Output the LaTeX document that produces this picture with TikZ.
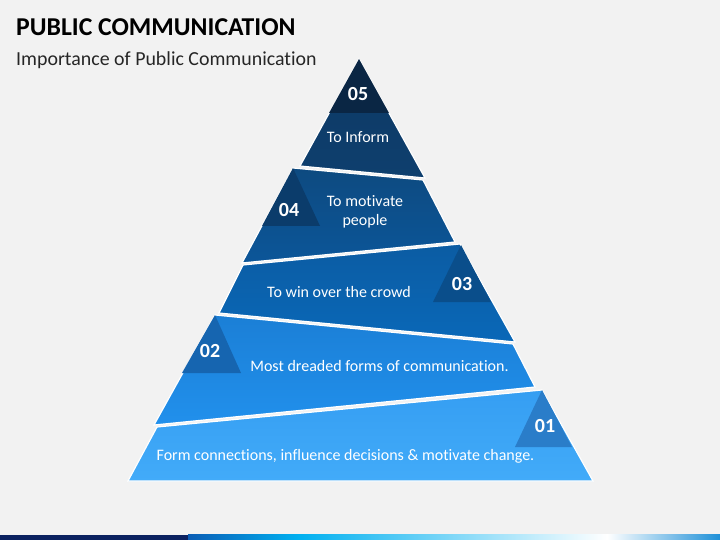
\documentclass[tikz,border=0pt]{standalone}
\usepackage{fontspec}
\setmainfont{Carlito}[Ligatures=NoCommon]
\definecolor{bg}{HTML}{F2F2F2}
\definecolor{sFtop}{HTML}{0A2644}
\definecolor{sF}{HTML}{0D3964}
\definecolor{sFb}{HTML}{0E3F6E}
\definecolor{sDt}{HTML}{0D4A80}
\definecolor{sDb}{HTML}{0C5699}
\definecolor{tD}{HTML}{0B3C6B}
\definecolor{sCt}{HTML}{0B5CA3}
\definecolor{sCb}{HTML}{0A68B8}
\definecolor{tC}{HTML}{0A4E8B}
\definecolor{sBt}{HTML}{1B7FD6}
\definecolor{sBb}{HTML}{2190EC}
\definecolor{tB}{HTML}{1665B0}
\definecolor{sAt}{HTML}{359EF2}
\definecolor{sAb}{HTML}{42ABF9}
\definecolor{tA}{HTML}{2A7DC9}
\definecolor{navy}{HTML}{0B2160}
\definecolor{barA}{HTML}{0A5DB5}
\definecolor{barB}{HTML}{00B0F0}
\definecolor{barD}{HTML}{1E90D8}
\tikzset{
  seg/.style={draw=white, line width=1.2pt, line join=miter},
  numtri/.style={line join=miter},
  num/.style={text=white, font=\fontsize{20}{24}\selectfont\bfseries, inner sep=0pt},
  lbl/.style={text=white, font=\fontsize{16}{19}\selectfont, align=center, inner sep=0pt},
}
\begin{document}
\begin{tikzpicture}[x=1pt,y=-1pt]
\fill[bg] (0,0) rectangle (720,540);
\useasboundingbox (0,0) rectangle (720,540);
% titles
\node[anchor=base west, inner sep=0pt, font=\fontsize{25.7}{30}\selectfont\bfseries] (title) at (16,36) {PUBLIC COMMUNICATION};
\node[anchor=base west, inner sep=0pt, font=\fontsize{19.9}{24}\selectfont, text=black!85] (sub) at (16,66) {Importance of Public Communication};
% segment 01
\shade[seg, top color=sAt, bottom color=sAb] (157,427) -- (542,390) -- (593,481) -- (128,481) -- cycle;
\fill[numtri, tA] (542,390) -- (572,447) -- (515,447) -- cycle;
% segment 02
\shade[seg, top color=sBt, bottom color=sBb] (215,315) -- (513,344) -- (535,387) -- (154,425) -- cycle;
\fill[numtri, tB] (215,315) -- (241,373) -- (182,373) -- cycle;
% segment 03
\shade[seg, top color=sCt, bottom color=sCb] (243,265) -- (460,244) -- (515,342) -- (219,313) -- cycle;
\fill[numtri, tC] (461,245) -- (491,302) -- (433,302) -- cycle;
% segment 04
\shade[seg, top color=sDt, bottom color=sDb] (293,168) -- (423,180) -- (455,242) -- (242,263) -- cycle;
\fill[numtri, tD] (293,168) -- (320,226) -- (262,226) -- cycle;
% segment 05
\shade[seg, top color=sF, bottom color=sFb] (359,59) -- (425,178) -- (300,166) -- cycle;
\fill[numtri, sFtop] (359,59) -- (389,113) -- (329,113) -- cycle;
% numbers
\node[num] (n5) at (358,94) {05};
\node[num] (n4) at (289,210) {04};
\node[num] (n3) at (462,284) {03};
\node[num] (n2) at (210,351) {02};
\node[num] (n1) at (545,426) {01};
% labels
\node[lbl] (l5) at (358,137) {To Inform};
\node[lbl] (l4) at (365,212) {To motivate\\people};
\node[lbl] (l3) at (339,292) {To win over the crowd};
\node[lbl] (l2) at (379.5,366) {Most dreaded forms of communication.};
\node[lbl] (l1) at (345.5,456) {Form connections, influence decisions \& motivate change.};
% bottom bar
\fill[navy] (0,534.7) rectangle (188,540);
\shade[left color=barA, right color=barB] (188,534.7) rectangle (298,540);
\shade[left color=barB, right color=white] (298,534.7) rectangle (607,540);
\shade[left color=white, right color=barD] (607,534.7) rectangle (720,540);
\end{tikzpicture}
\end{document}
